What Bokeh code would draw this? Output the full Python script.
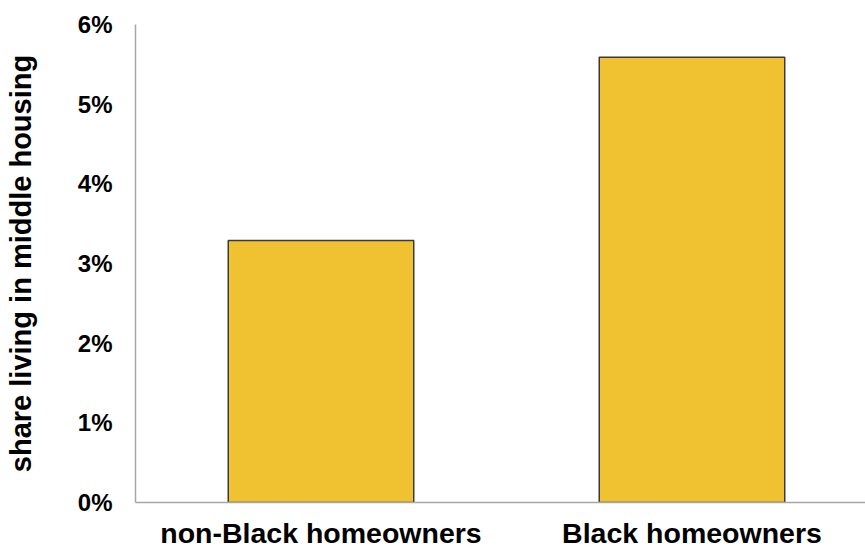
from bokeh.plotting import figure
from bokeh.models import ColumnDataSource, FixedTicker, Range1d
from bokeh.embed import file_html
from bokeh.resources import INLINE

categories = ["non-Black homeowners", "Black homeowners"]
shares = [3.29, 5.59]  # percent
y_ticks = [0, 1, 2, 3, 4, 5, 6]
y_tick_labels = ["0%", "1%", "2%", "3%", "4%", "5%", "6%"]

positions = list(range(len(categories)))
src = ColumnDataSource(dict(x=positions, top=shares))

p = figure(width=865, height=551, output_backend="svg", toolbar_location=None,
           x_range=Range1d(-0.5, 1.4677), y_range=Range1d(0, 6),
           min_border_left=135, min_border_right=0, min_border_top=24,
           min_border_bottom=49)

p.vbar(x="x", top="top", width=0.5, source=src, fill_color="#F0C232",
       line_color="#3a3a3a", line_width=1.5)

FONT = "Liberation Sans"
p.outline_line_color = None
p.xgrid.grid_line_color = None
p.ygrid.grid_line_color = None
p.background_fill_color = "white"
p.border_fill_color = "white"

p.xaxis.ticker = FixedTicker(ticks=positions)
p.xaxis.major_label_overrides = {i: c for i, c in zip(positions, categories)}
p.xaxis.major_tick_line_color = None
p.xaxis.minor_tick_line_color = None
p.xaxis.axis_line_color = "#A6A6A6"
p.xaxis.axis_line_width = 1.5
p.xaxis.major_label_text_font = FONT
p.xaxis.major_label_text_font_style = "bold"
p.xaxis.major_label_text_font_size = "28.5px"
p.xaxis.major_label_text_color = "black"
p.xaxis.major_label_standoff = 8

p.yaxis.ticker = FixedTicker(ticks=y_ticks)
p.yaxis.major_label_overrides = {t: l for t, l in zip(y_ticks, y_tick_labels)}
p.yaxis.major_tick_line_color = None
p.yaxis.minor_tick_line_color = None
p.yaxis.axis_line_color = "#A6A6A6"
p.yaxis.axis_line_width = 1.5
p.yaxis.major_label_text_font = FONT
p.yaxis.major_label_text_font_style = "bold"
p.yaxis.major_label_text_font_size = "24px"
p.yaxis.major_label_text_color = "black"
p.yaxis.major_label_standoff = 17
p.yaxis.axis_label = "share living in middle housing"
p.yaxis.axis_label_text_font = FONT
p.yaxis.axis_label_text_font_style = "bold"
p.yaxis.axis_label_text_font_size = "29px"
p.yaxis.axis_label_text_color = "black"
p.yaxis.axis_label_standoff = 38

open("out.html", "w").write(file_html(p, INLINE))
